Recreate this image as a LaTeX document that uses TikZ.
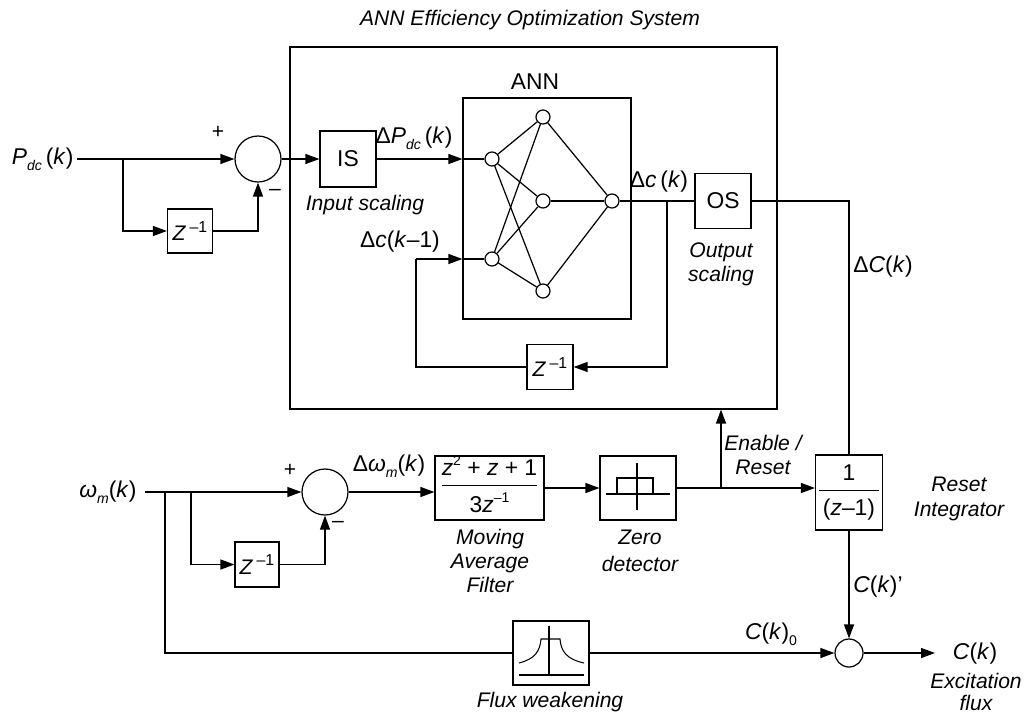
\documentclass[tikz,border=0pt]{standalone}
\usepackage{fontspec}
\setmainfont{Liberation Sans}
\usetikzlibrary{arrows.meta}
\newcommand\lo[1]{\raisebox{-0.5ex}{\footnotesize #1}}
\newcommand\hi[1]{\raisebox{0.8ex}{\footnotesize #1}}
\newcommand\zinv{\textit{Z}\,\raisebox{0.75ex}{\small –1}}
\tikzset{
  blk/.style={draw, inner sep=0pt},
  sumc/.style={draw, circle, inner sep=0pt, minimum size=0.92cm},
  neur/.style={draw, circle, inner sep=0pt, minimum size=0.28cm},
  lbl/.style={inner sep=0pt, font=\fontsize{12}{14}\selectfont\itshape, align=center},
  mlbl/.style={inner sep=0pt, font=\fontsize{13}{15}\selectfont, align=center},
  arr/.style={-{Triangle[length=2.8mm,width=2mm]}},
  glyph/.style={line width=0.6pt},
}
\begin{document}
\begin{tikzpicture}[x=0.02cm,y=-0.02cm,line width=0.7pt,font=\fontsize{12}{14}\selectfont]
\useasboundingbox (0,0) rectangle (1026,717);

% title
\node[lbl] (title) at (530,20) {ANN Efficiency Optimization System};

% outer system box
\node[blk, minimum width=9.74cm, minimum height=7.24cm] (sys) at (533.5,228) {};
% ANN box
\node[blk, minimum width=3.36cm, minimum height=4.42cm] (ann) at (547,208.5) {};
\node[inner sep=0pt, font=\fontsize{13}{15}\selectfont] (annlbl) at (535,82) {ANN};

% neurons
\node[neur] (i1) at (492,159) {};
\node[neur] (i2) at (492,259) {};
\node[neur] (h1) at (543,117) {};
\node[neur] (h2) at (543,201) {};
\node[neur] (h3) at (543,291) {};
\node[neur] (o)  at (612,201) {};
\foreach \a in {i1,i2}{\foreach \b in {h1,h2,h3}{\draw (\a) -- (\b);}}
\foreach \b in {h1,h2,h3}{\draw (\b) -- (o);}

% top input path
\node[mlbl, anchor=east] (pdc) at (74,159) {\textit{P}\lo{\textit{dc}}\,(\textit{k})};
\coordinate (pin) at (77,159);
\coordinate (b1) at (123,159);
\node[sumc] (sumP) at (258,159) {};
\node[blk, minimum width=0.9cm, minimum height=0.88cm] (zP) at (190,231) {\zinv};
\node[inner sep=0pt] (plusP) at (218,132) {+};
\node[inner sep=0pt] (minusP) at (275,192) {–};
\draw[arr] (pin) -- (sumP.west);
\draw[arr] (b1) |- (zP.west);
\draw[arr] (zP.east) -| (sumP.south);

% IS
\node[blk, minimum width=1.12cm, minimum height=1.12cm, font=\fontsize{13}{15}\selectfont] (IS) at (348,159) {IS};
\node[lbl] (islbl) at (365,205) {Input scaling};
\draw[arr] (sumP.east) -- (IS.west);
\draw[arr] (IS.east) -- (ann.west |- IS.east);
\draw (ann.west |- i1) -- (i1);
\node[mlbl] (dpdc) at (414,138) {Δ\textit{P}\lo{\textit{dc}}\,(\textit{k})};

% output and feedback
\node[blk, minimum width=1.12cm, minimum height=1.1cm, font=\fontsize{13}{15}\selectfont] (OS) at (723,201) {OS};
\node[lbl, font=\fontsize{12}{13.5}\selectfont\itshape] (oslbl) at (721,264) {Output\\scaling};
\draw (o) -- (OS.west);
\node[mlbl] (dck) at (659,182) {Δ\textit{c}\,(\textit{k})};
\coordinate (j1) at (667,201);
\node[blk, minimum width=0.92cm, minimum height=0.9cm] (zA) at (550,367) {\zinv};
\draw[arr] (j1) |- (zA.east);
\coordinate (fb) at (416,259);
\draw (zA.west) -| (fb);
\draw[arr] (fb) -- (ann.west |- i2);
\draw (ann.west |- i2) -- (i2);
\node[mlbl] (dck1) at (400,242) {Δ\textit{c}(\textit{k}–1)};

% integrator
\node[blk, minimum width=1.34cm, minimum height=1.5cm, font=\fontsize{13}{15}\selectfont] (integ) at (849,492.5)
  {\begin{tabular}{@{\,}c@{\,}}1\\[1pt]\hline\rule{0pt}{14pt}(\textit{z}–1)\end{tabular}};
\node[lbl, font=\fontsize{12}{14.5}\selectfont\itshape] (intlbl) at (959,499) {Reset\\Integrator};
\draw (OS.east) -| (integ.north);
\node[mlbl] (dCk) at (883,267) {Δ\textit{C}(\textit{k})};

% output summation
\node[draw, circle, inner sep=0pt, minimum size=0.56cm] (sumC) at (849,653) {};
\draw[arr] (integ.south) -- (sumC.north);
\node[mlbl] (ckp) at (878,587) {\textit{C}(\textit{k})’};
\coordinate (cout) at (935,653);
\draw[arr] (sumC.east) -- (cout);
\node[mlbl] (ckout) at (975,654) {\textit{C}(\textit{k})};
\node[lbl, font=\fontsize{12}{12.5}\selectfont\itshape] (exlbl) at (976,692) {Excitation\\flux};

% omega path
\node[mlbl, anchor=east] (wm) at (137,492) {\textit{ω}\lo{\textit{m}}(\textit{k})};
\coordinate (win) at (145,492);
\coordinate (b2) at (165,492);
\coordinate (b3) at (191,492);
\node[sumc] (sumW) at (325,492) {};
\node[blk, minimum width=0.88cm, minimum height=0.9cm] (zW) at (257,564.5) {\zinv};
\node[inner sep=0pt] (plusW) at (290,470) {+};
\node[inner sep=0pt] (minusW) at (338,524) {–};
\draw[arr] (win) -- (sumW.west);
\draw[arr] (b3) |- (zW.west);
\draw[arr] (zW.east) -| (sumW.south);
\node[mlbl] (dwm) at (389,466) {Δ\textit{ω}\lo{\textit{m}}(\textit{k})};

% moving average
\node[blk, minimum width=2.18cm, minimum height=1.28cm, font=\fontsize{13}{15}\selectfont] (ma) at (489.5,488)
  {\begin{tabular}{@{}c@{}}\textit{z}\hi{2} + \textit{z} + 1\\[1pt]\hline\rule{0pt}{15pt}3\textit{z}\hi{–1}\end{tabular}};
\draw[arr] (sumW.east) -- (sumW.east -| ma.west);
\node[lbl, font=\fontsize{12}{13.5}\selectfont\itshape] (malbl) at (490,561) {Moving\\Average\\Filter};

% zero detector
\node[blk, minimum width=1.52cm, minimum height=1.28cm] (zd) at (638,488) {};
\draw[glyph] (606,494) -- (670,494);
\draw[glyph] (637,463) -- (637,510);
\draw[glyph] (617,494) -- (617,478) -- (653,478) -- (653,494);
\node[lbl, font=\fontsize{12}{15}\selectfont\itshape] (zdlbl) at (640,551) {Zero\\detector};
\draw[arr] (ma.east) -- (zd.west);
\draw[arr] (zd.east) -- (zd.east -| integ.west);
\coordinate (j2) at (721,488);
\draw[arr] (j2) -- (j2 |- sys.south);
\node[lbl] (enlbl) at (763,455) {Enable /\\Reset};

% flux weakening
\node[blk, minimum width=1.52cm, minimum height=1.28cm] (flux) at (551,653) {};
\draw[glyph] (519,675) -- (584,675);
\draw[glyph] (549,626) -- (549,675);
\draw[glyph] (519,663) .. controls (535,659) and (540,651) .. (541,639) -- (560,639) .. controls (561,651) and (566,659) .. (584,663);
\node[lbl] (fluxlbl) at (550,702) {Flux weakening};
\draw (b2) |- (flux.west);
\draw[arr] (flux.east) -- (sumC.west);
\node[mlbl] (ck0) at (771,634) {\textit{C}(\textit{k})\lo{0}};
\end{tikzpicture}
\end{document}
